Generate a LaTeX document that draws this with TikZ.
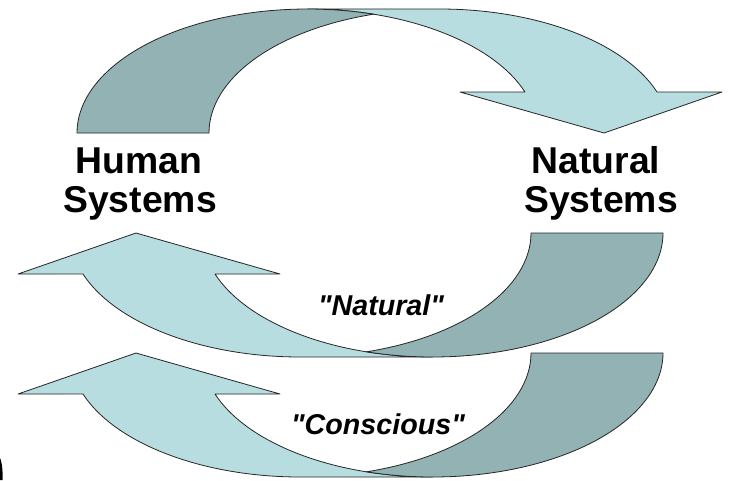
\documentclass[tikz,border=0pt]{standalone}
\usepackage{fontspec}
\setmainfont{Liberation Sans}
\newfontfamily\quotefont{Liberation Sans}
\definecolor{darkband}{RGB}{146,178,180}
\definecolor{lightband}{RGB}{183,221,224}
\newcommand{\curvedarrowshape}{%
  \path[lightpart] (525,92) arc[start angle=-19.3, end angle=-90, x radius=230.5, y radius=124]
     -- (439.5,9) arc[start angle=-90, end angle=-19.3, x radius=230.5, y radius=124]
     -- (722,92) -- (604,133) -- (460,92) -- cycle;
  \path[darkpart] (77,133) arc[start angle=180, end angle=286.64, x radius=230.5, y radius=124]
     arc[start angle=253.36, end angle=180, x radius=230.5, y radius=124] -- cycle;
}
\begin{document}
\begin{tikzpicture}[x=0.75pt,y=-0.75pt,
  bandline/.style={draw=black!85, line width=0.6pt, line join=round},
  lightpart/.style={bandline, fill=lightband},
  darkpart/.style={bandline, fill=darkband},
  biglabel/.style={font=\bfseries\fontsize{28}{30}\selectfont, anchor=base, inner sep=0pt},
  looplabel/.style={font=\quotefont\bfseries\itshape\fontsize{21.5}{24}\selectfont, anchor=base, inner sep=0pt}]
\useasboundingbox (0,0) rectangle (731,480);
\fill[white] (0,0) rectangle (731,480);
% top arrow: Human -> Natural
\begin{scope}
  \curvedarrowshape
\end{scope}
% middle arrow: Natural -> Human ("Natural")
\begin{scope}[shift={(740,366)}, rotate=180]
  \curvedarrowshape
\end{scope}
% bottom arrow: Natural -> Human ("Conscious")
\begin{scope}[shift={(740,486)}, rotate=180]
  \curvedarrowshape
\end{scope}
\node[biglabel] (humanA) at (139,173) {Human};
\node[biglabel] (humanB) at (140,212) {Systems};
\node[biglabel] (naturalA) at (596,173) {Natural};
\node[biglabel] (naturalB) at (601,212) {Systems};
\node[looplabel] (loopnat) at (381,315) {"Natural"};
\node[looplabel] (loopcon) at (378,434) {"Conscious"};
\fill[black] (0,458) .. controls (2,462) and (3,472) .. (2.5,480) -- (0,480) -- cycle;
\end{tikzpicture}
\end{document}
